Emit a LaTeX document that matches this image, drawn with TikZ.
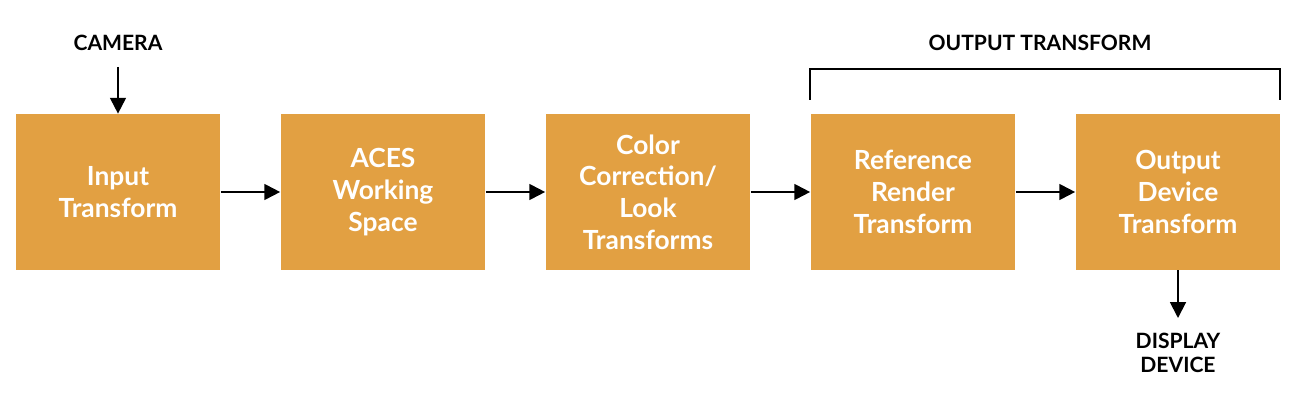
\documentclass[tikz,border=0pt]{standalone}
\usepackage{fontspec}
\setmainfont{Lato}
\usetikzlibrary{arrows.meta}
\definecolor{boxorange}{HTML}{E2A042}
\begin{document}
\begin{tikzpicture}[x=0.02cm,y=-0.02cm,
	stage/.style={fill=boxorange, minimum width=4.1cm, minimum height=3.12cm, inner sep=0pt,
		text=white, font=\fontsize{15}{18}\selectfont\bfseries, align=center},
	tag/.style={font=\fontsize{12}{13.5}\selectfont\bfseries, align=center},
	flow/.style={line width=1.1pt, -{Triangle[length=9pt,width=9pt]}}]
	\useasboundingbox (0,0) rectangle (1295,405);
	\node[stage] (input) at (118,192) {Input\\Transform};
	\node[stage] (aces) at (383,192) {ACES\\Working\\Space};
	\node[stage] (look) at (648,192) {Color\\Correction/\\Look\\Transforms};
	\node[stage] (rrt) at (913,192) {Reference\\Render\\Transform};
	\node[stage] (odt) at (1178,192) {Output\\Device\\Transform};
	\node[tag] (camera) at (118,43) {CAMERA};
	\node[tag] (display) at (1178,353) {DISPLAY\\DEVICE};
	\node[tag] (outlabel) at (1040,43) {OUTPUT TRANSFORM};
	\coordinate (camtop) at (118,67);
	\coordinate (disptop) at (1178,318);
	\draw[flow] (camtop) -- (input.north);
	\draw[flow] (input) -- (aces);
	\draw[flow] (aces) -- (look);
	\draw[flow] (look) -- (rrt);
	\draw[flow] (rrt) -- (odt);
	\draw[flow] (odt.south) -- (disptop);
	% bracket over the output transform
	\draw[line width=1.1pt] (810,100) -- (810,69) -- (1280,69) -- (1280,100);
\end{tikzpicture}
\end{document}
